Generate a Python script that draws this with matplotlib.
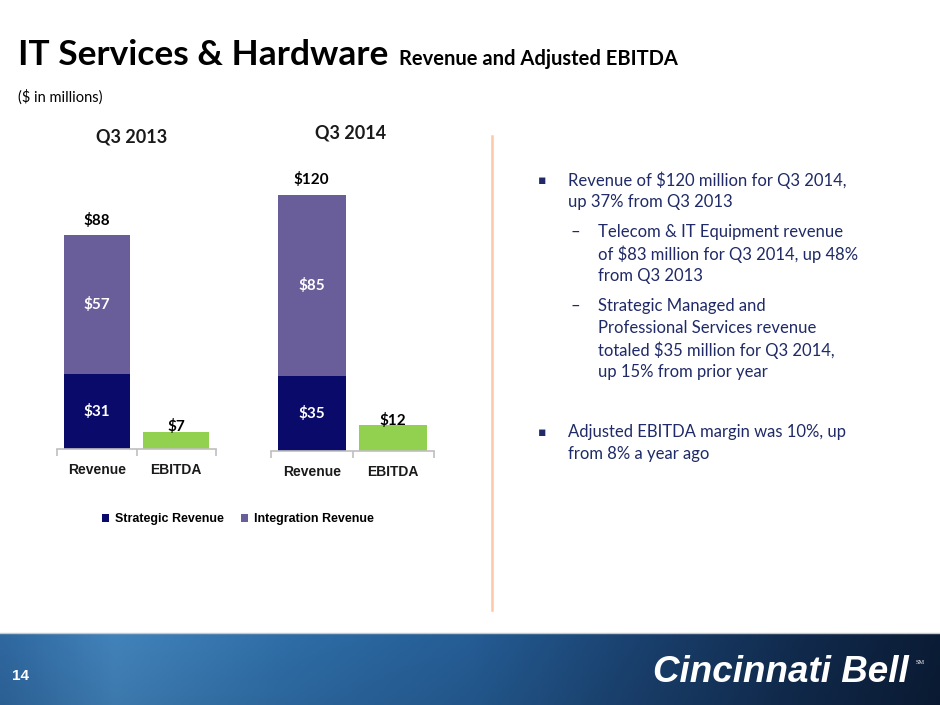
import numpy as np
import matplotlib
matplotlib.use("Agg")
import matplotlib.pyplot as plt
from matplotlib.colors import LinearSegmentedColormap

# ---------------- data ----------------
categories = ["Revenue", "EBITDA"]
periods = ["Q3 2013", "Q3 2014"]
strategic = [31, 35]          # Strategic Revenue
integration = [57, 85]        # Integration Revenue
revenue_total = [88, 120]
ebitda = [7, 12]
series_names = ["Strategic Revenue", "Integration Revenue"]

bullets = [
    ("b", ["Revenue of $120 million for Q3 2014,", "up 37% from Q3 2013"]),
    ("s", ["Telecom & IT Equipment revenue", "of $83 million for Q3 2014, up 48%", "from Q3 2013"]),
    ("s", ["Strategic Managed and", "Professional Services revenue", "totaled $35 million for Q3 2014,", "up 15% from prior year"]),
    ("b", ["Adjusted EBITDA margin was 10%, up", "from 8% a year ago"]),
]

C_STRAT = "#0a0a6b"
C_INTEG = "#6a5e9a"
C_EBITDA = "#92d050"
C_AXIS = "#bfbfbf"
C_TEXT = "#1f2a66"

W, H = 940, 705
fig = plt.figure(figsize=(W / 100, H / 100), dpi=100)
fig.patch.set_facecolor("white")


def fx(x):
    return x / W


def fy(y):
    return 1 - y / H


def rect(l, t, r, b):
    return [fx(l), fy(b), fx(r) - fx(l), fy(t) - fy(b)]


# ---------------- charts ----------------
chart_boxes = [rect(57, 180, 216, 449), rect(271, 180, 434, 451)]
ytops = [110.7, 127.0]
header_pos = [(132, 137), (351, 133)]
label_font = "Liberation Sans"
value_font = "Lato"

handles = None
for i, (box, ytop) in enumerate(zip(chart_boxes, ytops)):
    ax = fig.add_axes(box)
    x = np.arange(len(categories))
    b1 = ax.bar(x[0], strategic[i], width=0.83, color=C_STRAT, label=series_names[0])
    b2 = ax.bar(x[0], integration[i], bottom=strategic[i], width=0.83, color=C_INTEG,
                label=series_names[1])
    ax.bar(x[1], ebitda[i], width=0.83, color=C_EBITDA)
    if handles is None:
        handles = [b1, b2]
    ax.set_xlim(-0.5, 1.5)
    ax.set_ylim(0, ytop)
    for s in ["top", "left", "right"]:
        ax.spines[s].set_visible(False)
    ax.spines["bottom"].set_color(C_AXIS)
    ax.spines["bottom"].set_linewidth(1.2)
    ax.set_yticks([])
    ax.set_xticks([-0.5, 0.5, 1.5])
    ax.set_xticklabels([])
    ax.tick_params(axis="x", which="major", length=5, color=C_AXIS, width=1.2, direction="out")
    ax.set_xticks(x, minor=True)
    ax.set_xticklabels(categories, minor=True, fontfamily=label_font, fontweight="bold",
                       fontsize=10, color="#1a1a1a")
    ax.tick_params(axis="x", which="minor", length=0, pad=10)
    ax.patch.set_alpha(0)

    # value labels
    ax.annotate(f"${revenue_total[i]}", (x[0], revenue_total[i]), xytext=(0, 15),
                textcoords="offset pixels", ha="center", va="center",
                fontfamily=value_font, fontweight="bold", fontsize=11, color="black")
    ax.text(x[0], strategic[i] / 2, f"${strategic[i]}", ha="center", va="center",
            fontfamily=value_font, fontweight="bold", fontsize=11, color="white")
    ax.text(x[0], strategic[i] + integration[i] / 2, f"${integration[i]}", ha="center",
            va="center", fontfamily=value_font, fontweight="bold", fontsize=11, color="white")
    ax.annotate(f"${ebitda[i]}", (x[1], ebitda[i]), xytext=(0, 5),
                textcoords="offset pixels", ha="center", va="center",
                fontfamily=value_font, fontweight="bold", fontsize=11, color="black")

    hx, hy = header_pos[i]
    fig.text(fx(hx), fy(hy), periods[i], ha="center", va="center", fontfamily=value_font,
             fontweight="bold", fontsize=13, color="#1a1a1a")

fig.legend(handles=handles, labels=series_names, loc="center",
           bbox_to_anchor=(fx(238), fy(519)), ncol=2, frameon=False,
           handlelength=0.6, handleheight=0.6, handletextpad=0.5, columnspacing=1.3,
           prop={"family": label_font, "weight": "bold", "size": 9})

# ---------------- titles ----------------
fig.text(fx(18), fy(65), "IT Services & Hardware", ha="left", va="baseline",
         fontfamily="Lato", fontweight="bold", fontsize=25.5, color="black")
fig.text(fx(399), fy(65), "Revenue and Adjusted EBITDA", ha="left", va="baseline",
         fontfamily="Lato", fontweight="bold", fontsize=14.5, color="black")
fig.text(fx(18), fy(97), "($ in millions)", ha="left", va="center",
         fontfamily="Lato", fontsize=10.5, color="black")

# separator
fig.add_artist(plt.Line2D([fx(492), fx(492)], [fy(136), fy(610)], color="#fcc8a8",
                          linewidth=1.8))

# ---------------- bullets ----------------
y = 180
first = True
for kind, lines in bullets:
    if kind == "b" and not first:
        y += 38
    if kind == "s":
        y += 8
    if kind == "b":
        fig.text(fx(542), fy(y), "\u25aa", ha="center", va="center", fontfamily="DejaVu Sans",
                 fontsize=9, color=C_TEXT)
        tx = 568
    else:
        fig.text(fx(575), fy(y), "\u2013", ha="center", va="center", fontfamily="Lato",
                 fontsize=12, color=C_TEXT)
        tx = 598
    for ln in lines:
        fig.text(fx(tx), fy(y), ln, ha="left", va="center", fontfamily="Lato",
                 fontsize=12, color=C_TEXT)
        y += 22
    first = False

# ---------------- footer banner ----------------
bax = fig.add_axes(rect(0, 633, 940, 705))
bax.axis("off")
stops = [(0.0, "#2f68a0"), (0.12, "#4283bb"), (0.3, "#2f6ea8"), (0.5, "#255d95"),
         (0.68, "#1a416f"), (0.85, "#112b4e"), (1.0, "#0b1c36")]
cmap = LinearSegmentedColormap.from_list("banner", stops)
grad = np.tile(np.linspace(0, 1, 400), (40, 1))
shade = np.linspace(0, 0.08, 40)
rgb = cmap(grad)[..., :3] * (1 - shade)[:, None, None]
bax.imshow(np.clip(rgb, 0, 1), aspect="auto", extent=[0, 1, 0, 1])
bax.set_xlim(0, 1)
bax.set_ylim(0, 1)
fig.add_artist(plt.Line2D([0, 1], [fy(632.5), fy(632.5)], color="#c8c8c8", linewidth=1))

fig.text(fx(12), fy(676), "14", ha="left", va="center", fontfamily="Liberation Sans",
         fontweight="bold", fontsize=11, color="white")
fig.text(fx(653), fy(682), "Cincinnati Bell", ha="left", va="baseline",
         fontfamily="Liberation Sans", fontweight="bold", style="italic", fontsize=26.5,
         color="white")
fig.text(fx(916), fy(662), "SM", ha="left", va="center", fontfamily="Liberation Serif",
         fontsize=4.5, color="white")

fig.savefig("out.png", dpi=100, facecolor="white")
